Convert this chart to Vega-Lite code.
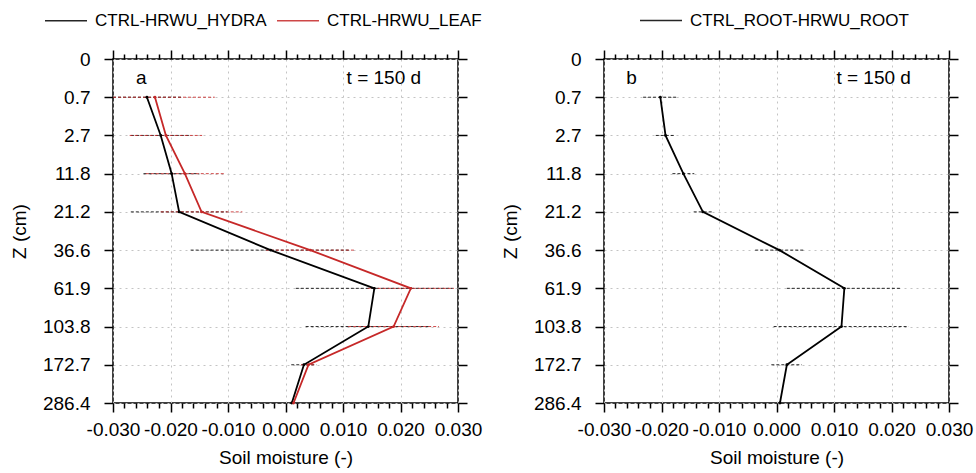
{
  "$schema": "https://vega.github.io/schema/vega-lite/v6.json",
  "padding": {"left": 9, "top": 8, "right": 0, "bottom": 0},
  "background": "white",
  "config": {
    "font": "Liberation Sans",
    "view": {"stroke": "black", "strokeWidth": 1.5},
    "axis": {
      "labelFont": "Liberation Sans", "labelFontSize": 19, "labelColor": "black",
      "titleFont": "Liberation Sans", "titleFontSize": 19, "titleFontWeight": "normal", "titleColor": "black",
      "domain": false, "tickColor": "black", "tickWidth": 1.5, "tickSize": 9,
      "gridColor": "#c4c4c4", "gridDash": [2, 4], "gridWidth": 1
    },
    "legend": {
      "orient": "none", "direction": "horizontal", "symbolType": "M-1,0H3", "symbolSize": 441,
      "symbolStrokeWidth": 1.5, "labelFont": "Liberation Sans", "labelFontSize": 17, "labelColor": "black",
      "labelOffset": 28, "columnPadding": 7, "title": null, "padding": 0, "labelLimit": 400
    }
  },
  "datasets": {
    "panelA": [
      {"depth": "0.7", "series": "CTRL-HRWU_HYDRA", "value": -0.0241, "lo": -0.0300, "hi": -0.0180},
      {"depth": "2.7", "series": "CTRL-HRWU_HYDRA", "value": -0.0217, "lo": -0.0269, "hi": -0.0165},
      {"depth": "11.8", "series": "CTRL-HRWU_HYDRA", "value": -0.0198, "lo": -0.0247, "hi": -0.0150},
      {"depth": "21.2", "series": "CTRL-HRWU_HYDRA", "value": -0.0185, "lo": -0.0269, "hi": -0.0101},
      {"depth": "36.6", "series": "CTRL-HRWU_HYDRA", "value": -0.0026, "lo": -0.0165, "hi": 0.0113},
      {"depth": "61.9", "series": "CTRL-HRWU_HYDRA", "value": 0.01545, "lo": 0.0018, "hi": 0.0291},
      {"depth": "103.8", "series": "CTRL-HRWU_HYDRA", "value": 0.0144, "lo": 0.0035, "hi": 0.0253},
      {"depth": "172.7", "series": "CTRL-HRWU_HYDRA", "value": 0.0032, "lo": 0.0010, "hi": 0.0054},
      {"depth": "286.4", "series": "CTRL-HRWU_HYDRA", "value": 0.0011, "lo": 0.0009, "hi": 0.0013},
      {"depth": "0.7", "series": "CTRL-HRWU_LEAF", "value": -0.0227, "lo": -0.0300, "hi": -0.0123},
      {"depth": "2.7", "series": "CTRL-HRWU_LEAF", "value": -0.0208, "lo": -0.0271, "hi": -0.0145},
      {"depth": "11.8", "series": "CTRL-HRWU_LEAF", "value": -0.0175, "lo": -0.0243, "hi": -0.0107},
      {"depth": "21.2", "series": "CTRL-HRWU_LEAF", "value": -0.0146, "lo": -0.0217, "hi": -0.0075},
      {"depth": "36.6", "series": "CTRL-HRWU_LEAF", "value": 0.0043, "lo": -0.0034, "hi": 0.0119},
      {"depth": "61.9", "series": "CTRL-HRWU_LEAF", "value": 0.0218, "lo": 0.0143, "hi": 0.0293},
      {"depth": "103.8", "series": "CTRL-HRWU_LEAF", "value": 0.0188, "lo": 0.0109, "hi": 0.0267},
      {"depth": "172.7", "series": "CTRL-HRWU_LEAF", "value": 0.0040, "lo": 0.0027, "hi": 0.0053},
      {"depth": "286.4", "series": "CTRL-HRWU_LEAF", "value": 0.0014, "lo": 0.0012, "hi": 0.0016}
    ],
    "panelB": [
      {"depth": "0.7", "series": "CTRL_ROOT-HRWU_ROOT", "value": -0.0202, "lo": -0.0232, "hi": -0.0171},
      {"depth": "2.7", "series": "CTRL_ROOT-HRWU_ROOT", "value": -0.0193, "lo": -0.0210, "hi": -0.0176},
      {"depth": "11.8", "series": "CTRL_ROOT-HRWU_ROOT", "value": -0.0162, "lo": -0.0181, "hi": -0.0143},
      {"depth": "21.2", "series": "CTRL_ROOT-HRWU_ROOT", "value": -0.0128, "lo": -0.0144, "hi": -0.0112},
      {"depth": "36.6", "series": "CTRL_ROOT-HRWU_ROOT", "value": 0.0005, "lo": -0.0037, "hi": 0.0047},
      {"depth": "61.9", "series": "CTRL_ROOT-HRWU_ROOT", "value": 0.0118, "lo": 0.0018, "hi": 0.0218},
      {"depth": "103.8", "series": "CTRL_ROOT-HRWU_ROOT", "value": 0.0113, "lo": -0.0005, "hi": 0.0230},
      {"depth": "172.7", "series": "CTRL_ROOT-HRWU_ROOT", "value": 0.0018, "lo": -0.0009, "hi": 0.0044},
      {"depth": "286.4", "series": "CTRL_ROOT-HRWU_ROOT", "value": 0.0006, "lo": 0.0005, "hi": 0.0007}
    ],
    "annoA": [
      {"label": "a", "x": -0.0251, "depth": "0"},
      {"label": "t = 150 d", "x": 0.0171, "depth": "0"}
    ],
    "annoB": [
      {"label": "b", "x": -0.0252, "depth": "0"},
      {"label": "t = 150 d", "x": 0.0169, "depth": "0"}
    ]
  },
  "resolve": {"scale": {"color": "independent"}},
  "spacing": 17,
  "hconcat": [
    {
      "width": 345, "height": 344,
      "resolve": {"axis": {"x": "independent", "y": "independent"}},
      "layer": [
        {
          "data": {"name": "panelA"},
          "mark": {"type": "rule", "strokeDash": [3, 2], "strokeWidth": 1, "opacity": 0.85},
          "encoding": {
            "x": {"field": "lo", "type": "quantitative",
              "scale": {"domain": [-0.03, 0.03], "nice": false, "zero": false},
              "axis": {"orient": "bottom", "values": [-0.03, -0.02, -0.01, 0, 0.01, 0.02, 0.03],
                "labelExpr": "replace(format(datum.value, '.3f'), '\u2212', '-')",
                "title": "Soil moisture (-)", "grid": true, "labelOverlap": false, "labelFlush": false, "labelBound": false,
                "labelPadding": 8, "titlePadding": 9}},
            "x2": {"field": "hi"},
            "y": {"field": "depth", "type": "ordinal",
              "scale": {"type": "point", "padding": 0, "domain": ["0", "0.7", "2.7", "11.8", "21.2", "36.6", "61.9", "103.8", "172.7", "286.4"]},
              "axis": {"orient": "left", "title": "Z (cm)", "grid": true, "labelPadding": 14, "titlePadding": 13, "labelAngle": 0}},
            "color": {"field": "series", "type": "nominal",
              "scale": {"domain": ["CTRL-HRWU_HYDRA", "CTRL-HRWU_LEAF"], "range": ["black", "#c62828"]},
              "legend": {"legendX": -69, "legendY": -50}}
          }
        },
        {
          "data": {"name": "panelA"},
          "mark": {"type": "line", "strokeWidth": 1.8},
          "encoding": {
            "x": {"field": "value", "type": "quantitative",
              "axis": {"orient": "top", "values": [-0.03, -0.02, -0.01, 0, 0.01, 0.02, 0.03], "labels": false, "title": null, "grid": false}},
            "y": {"field": "depth", "type": "ordinal",
              "axis": {"orient": "right", "labels": false, "title": null, "grid": false}},
            "color": {"field": "series", "type": "nominal", "legend": null},
            "order": {"value": null}
          }
        },
        {
          "data": {"name": "panelA"},
          "mark": {"type": "point", "filled": true, "size": 8, "opacity": 1},
          "encoding": {
            "x": {"field": "value", "type": "quantitative",
              "axis": {"orient": "bottom", "values": [-0.028, -0.026, -0.024, -0.022, -0.018, -0.016, -0.014, -0.012, -0.008, -0.006, -0.004, -0.002, 0.002, 0.004, 0.006, 0.008, 0.012, 0.014, 0.016, 0.018, 0.022, 0.024, 0.026, 0.028],
                "labels": false, "title": null, "grid": false, "tickSize": 5}},
            "y": {"field": "depth", "type": "ordinal", "axis": null},
            "color": {"field": "series", "type": "nominal", "legend": null}
          }
        },
        {
          "data": {"name": "annoA"},
          "mark": {"type": "text", "fontSize": 19, "font": "Liberation Sans", "color": "black", "dy": 19, "baseline": "middle"},
          "encoding": {
            "x": {"field": "x", "type": "quantitative",
              "axis": {"orient": "top", "values": [-0.028, -0.026, -0.024, -0.022, -0.018, -0.016, -0.014, -0.012, -0.008, -0.006, -0.004, -0.002, 0.002, 0.004, 0.006, 0.008, 0.012, 0.014, 0.016, 0.018, 0.022, 0.024, 0.026, 0.028],
                "labels": false, "title": null, "grid": false, "tickSize": 5}},
            "y": {"field": "depth", "type": "ordinal", "axis": null},
            "text": {"field": "label"}
          }
        }
      ]
    },
    {
      "width": 345, "height": 344,
      "resolve": {"axis": {"x": "independent", "y": "independent"}},
      "layer": [
        {
          "data": {"name": "panelB"},
          "mark": {"type": "rule", "strokeDash": [3, 2], "strokeWidth": 1, "opacity": 0.85},
          "encoding": {
            "x": {"field": "lo", "type": "quantitative",
              "scale": {"domain": [-0.03, 0.03], "nice": false, "zero": false},
              "axis": {"orient": "bottom", "values": [-0.03, -0.02, -0.01, 0, 0.01, 0.02, 0.03],
                "labelExpr": "replace(format(datum.value, '.3f'), '\u2212', '-')",
                "title": "Soil moisture (-)", "grid": true, "labelOverlap": false, "labelFlush": false, "labelBound": false,
                "labelPadding": 8, "titlePadding": 9}},
            "x2": {"field": "hi"},
            "y": {"field": "depth", "type": "ordinal",
              "scale": {"type": "point", "padding": 0, "domain": ["0", "0.7", "2.7", "11.8", "21.2", "36.6", "61.9", "103.8", "172.7", "286.4"]},
              "axis": {"orient": "left", "title": "Z (cm)", "grid": true, "labelPadding": 14, "titlePadding": 13, "labelAngle": 0}},
            "color": {"field": "series", "type": "nominal",
              "scale": {"domain": ["CTRL_ROOT-HRWU_ROOT"], "range": ["black"]},
              "legend": {"legendX": 35, "legendY": -50}}
          }
        },
        {
          "data": {"name": "panelB"},
          "mark": {"type": "line", "strokeWidth": 1.8},
          "encoding": {
            "x": {"field": "value", "type": "quantitative",
              "axis": {"orient": "top", "values": [-0.03, -0.02, -0.01, 0, 0.01, 0.02, 0.03], "labels": false, "title": null, "grid": false}},
            "y": {"field": "depth", "type": "ordinal",
              "axis": {"orient": "right", "labels": false, "title": null, "grid": false}},
            "color": {"field": "series", "type": "nominal", "legend": null},
            "order": {"value": null}
          }
        },
        {
          "data": {"name": "panelB"},
          "mark": {"type": "point", "filled": true, "size": 8, "opacity": 1},
          "encoding": {
            "x": {"field": "value", "type": "quantitative",
              "axis": {"orient": "bottom", "values": [-0.028, -0.026, -0.024, -0.022, -0.018, -0.016, -0.014, -0.012, -0.008, -0.006, -0.004, -0.002, 0.002, 0.004, 0.006, 0.008, 0.012, 0.014, 0.016, 0.018, 0.022, 0.024, 0.026, 0.028],
                "labels": false, "title": null, "grid": false, "tickSize": 5}},
            "y": {"field": "depth", "type": "ordinal", "axis": null},
            "color": {"field": "series", "type": "nominal", "legend": null}
          }
        },
        {
          "data": {"name": "annoB"},
          "mark": {"type": "text", "fontSize": 19, "font": "Liberation Sans", "color": "black", "dy": 19, "baseline": "middle"},
          "encoding": {
            "x": {"field": "x", "type": "quantitative",
              "axis": {"orient": "top", "values": [-0.028, -0.026, -0.024, -0.022, -0.018, -0.016, -0.014, -0.012, -0.008, -0.006, -0.004, -0.002, 0.002, 0.004, 0.006, 0.008, 0.012, 0.014, 0.016, 0.018, 0.022, 0.024, 0.026, 0.028],
                "labels": false, "title": null, "grid": false, "tickSize": 5}},
            "y": {"field": "depth", "type": "ordinal", "axis": null},
            "text": {"field": "label"}
          }
        }
      ]
    }
  ]
}
